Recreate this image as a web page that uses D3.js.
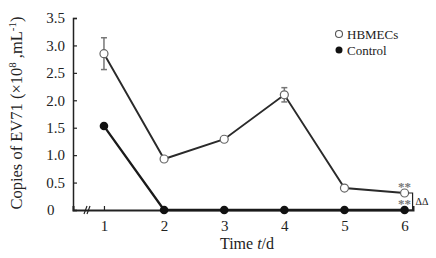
<!DOCTYPE html>
<html>
<head>
<meta charset="utf-8">
<script src="https://cdn.jsdelivr.net/npm/d3@7"></script>
<style>
  body { margin: 0; background: #fff; }
  svg text { font-family: "Liberation Serif", "Times New Roman", serif; fill: #222; }
</style>
</head>
<body>
<div id="chart"></div>
<script>
let w = 436;
let h = 258;

// data
let days = [1, 2, 3, 4, 5, 6];
let hbmecs = [2.85, 0.93, 1.29, 2.10, 0.40, 0.31];
let hbmecsErr = [0.29, 0, 0, 0.13, 0, 0];
let control = [1.53, 0, 0, 0, 0, 0];
let yTicks = [0, 0.5, 1.0, 1.5, 2.0, 2.5, 3.0, 3.5];

let viz = d3.select("#chart")
  .append("svg")
  .attr("width", w)
  .attr("height", h);

let xScale = d3.scaleLinear().domain([0.485, 6.14]).range([73, 413]);
let yScale = d3.scaleLinear().domain([0, 3.5]).range([210, 18]);

// y axis
let yAxis = d3.axisLeft(yScale)
  .tickValues(yTicks)
  .tickSize(-4)
  .tickPadding(8)
  .tickFormat(d => d === 0 ? "0" : d3.format(".1f")(d));
let yg = viz.append("g").attr("transform", "translate(73,0)").call(yAxis);
yg.select(".domain").attr("stroke", "#222").attr("stroke-width", 1.5);
yg.selectAll(".tick line").attr("stroke", "#222").attr("stroke-width", 1.2);
yg.selectAll(".tick text").style("font-size", "15px");
// the "0" sits left-aligned with the other labels
yg.selectAll(".tick text").filter(d => d === 0)
  .attr("text-anchor", "start").attr("x", -26);

// x axis
let xAxis = d3.axisBottom(xScale)
  .tickValues(days)
  .tickSize(-4)
  .tickPadding(10)
  .tickFormat(d3.format("d"));
let xg = viz.append("g").attr("transform", "translate(0,210)").call(xAxis);
xg.select(".domain").attr("stroke", "#222").attr("stroke-width", 2);
xg.selectAll(".tick line").attr("stroke", "#222").attr("stroke-width", 1.2);
xg.selectAll(".tick text").style("font-size", "15px");

// axis break mark
let bx = 88;
viz.append("line").attr("x1", bx - 4).attr("y1", 214).attr("x2", bx - 1).attr("y2", 206)
  .attr("stroke", "#222").attr("stroke-width", 1.2);
viz.append("line").attr("x1", bx - 1).attr("y1", 214).attr("x2", bx + 2).attr("y2", 206)
  .attr("stroke", "#222").attr("stroke-width", 1.2);

let line = d3.line()
  .x((d, i) => xScale(days[i]))
  .y(d => yScale(d));

// control line
viz.append("path").datum(control)
  .attr("d", line)
  .attr("fill", "none")
  .attr("stroke", "#1a1a1a")
  .attr("stroke-width", 2.3);

// hbmecs line
viz.append("path").datum(hbmecs)
  .attr("d", line)
  .attr("fill", "none")
  .attr("stroke", "#2a2a2a")
  .attr("stroke-width", 1.9);

// error bars
let errData = hbmecs.map((v, i) => ({x: days[i], v: v, e: hbmecsErr[i]})).filter(d => d.e > 0);
viz.selectAll(".err").data(errData).enter()
  .append("line").attr("class", "err")
  .attr("x1", d => xScale(d.x)).attr("x2", d => xScale(d.x))
  .attr("y1", d => yScale(d.v - d.e)).attr("y2", d => yScale(d.v + d.e))
  .attr("stroke", "#777").attr("stroke-width", 1.5);
viz.selectAll(".capT").data(errData).enter()
  .append("line").attr("class", "capT")
  .attr("x1", d => xScale(d.x) - 3).attr("x2", d => xScale(d.x) + 3)
  .attr("y1", d => yScale(d.v + d.e)).attr("y2", d => yScale(d.v + d.e))
  .attr("stroke", "#777").attr("stroke-width", 1.5);
viz.selectAll(".capB").data(errData).enter()
  .append("line").attr("class", "capB")
  .attr("x1", d => xScale(d.x) - 3).attr("x2", d => xScale(d.x) + 3)
  .attr("y1", d => yScale(d.v - d.e)).attr("y2", d => yScale(d.v - d.e))
  .attr("stroke", "#777").attr("stroke-width", 1.5);

viz.selectAll(".ctrl").data(control).enter()
  .append("circle").attr("class", "ctrl")
  .attr("cx", (d, i) => xScale(days[i]))
  .attr("cy", d => yScale(d))
  .attr("r", 4.3)
  .attr("fill", "#111");

viz.selectAll(".hb").data(hbmecs).enter()
  .append("circle").attr("class", "hb")
  .attr("cx", (d, i) => xScale(days[i]))
  .attr("cy", d => yScale(d))
  .attr("r", 4)
  .attr("fill", "#fff")
  .attr("stroke", "#666")
  .attr("stroke-width", 1.2);

// significance marks at day 6
let x6 = xScale(6);
viz.append("text").attr("x", x6).attr("y", yScale(hbmecs[5]) - 2)
  .attr("text-anchor", "middle").style("font-size", "13px").style("font-weight", "bold").style("fill", "#777")
  .text("**");
viz.append("text").attr("x", x6).attr("y", yScale(0) - 2)
  .attr("text-anchor", "middle").style("font-size", "13px").style("font-weight", "bold").style("fill", "#777")
  .text("**");
viz.append("path")
  .attr("d", `M${x6 + 4},${yScale(hbmecs[5])} H${x6 + 8} V${yScale(0)} H${x6 + 4}`)
  .attr("fill", "none").attr("stroke", "#222").attr("stroke-width", 1.2);
viz.append("text").attr("x", x6 + 11).attr("y", (yScale(hbmecs[5]) + yScale(0)) / 2 + 4)
  .style("font-size", "10px").text("ΔΔ");

// legend
let legend = [{name: "HBMECs", fill: "#fff"}, {name: "Control", fill: "#111"}];
let lg = viz.selectAll(".lg").data(legend).enter().append("g").attr("class", "lg")
  .attr("transform", (d, i) => `translate(339,${34 + i * 16})`);
lg.append("circle").attr("r", 3.5).attr("fill", d => d.fill)
  .attr("stroke", d => d.fill === "#fff" ? "#555" : "none").attr("stroke-width", 1.1);
lg.append("text").attr("x", 8).attr("y", 4.5).style("font-size", "13px").text(d => d.name);

// axis titles
let xt = viz.append("text").attr("x", 247).attr("y", 249).attr("text-anchor", "middle").style("font-size", "16px");
xt.append("tspan").text("Time ");
xt.append("tspan").style("font-style", "italic").text("t");
xt.append("tspan").text("/d");

let yt = viz.append("text").attr("transform", "translate(22,113) rotate(-90)")
  .attr("text-anchor", "middle").style("font-size", "16.5px");
yt.append("tspan").text("Copies of EV71 (×10");
yt.append("tspan").attr("dy", -6).style("font-size", "11px").text("8");
yt.append("tspan").attr("dy", 6).text(" ,mL");
yt.append("tspan").attr("dy", -6).style("font-size", "11px").text("-1");
yt.append("tspan").attr("dy", 6).text(")");
</script>
</body>
</html>
